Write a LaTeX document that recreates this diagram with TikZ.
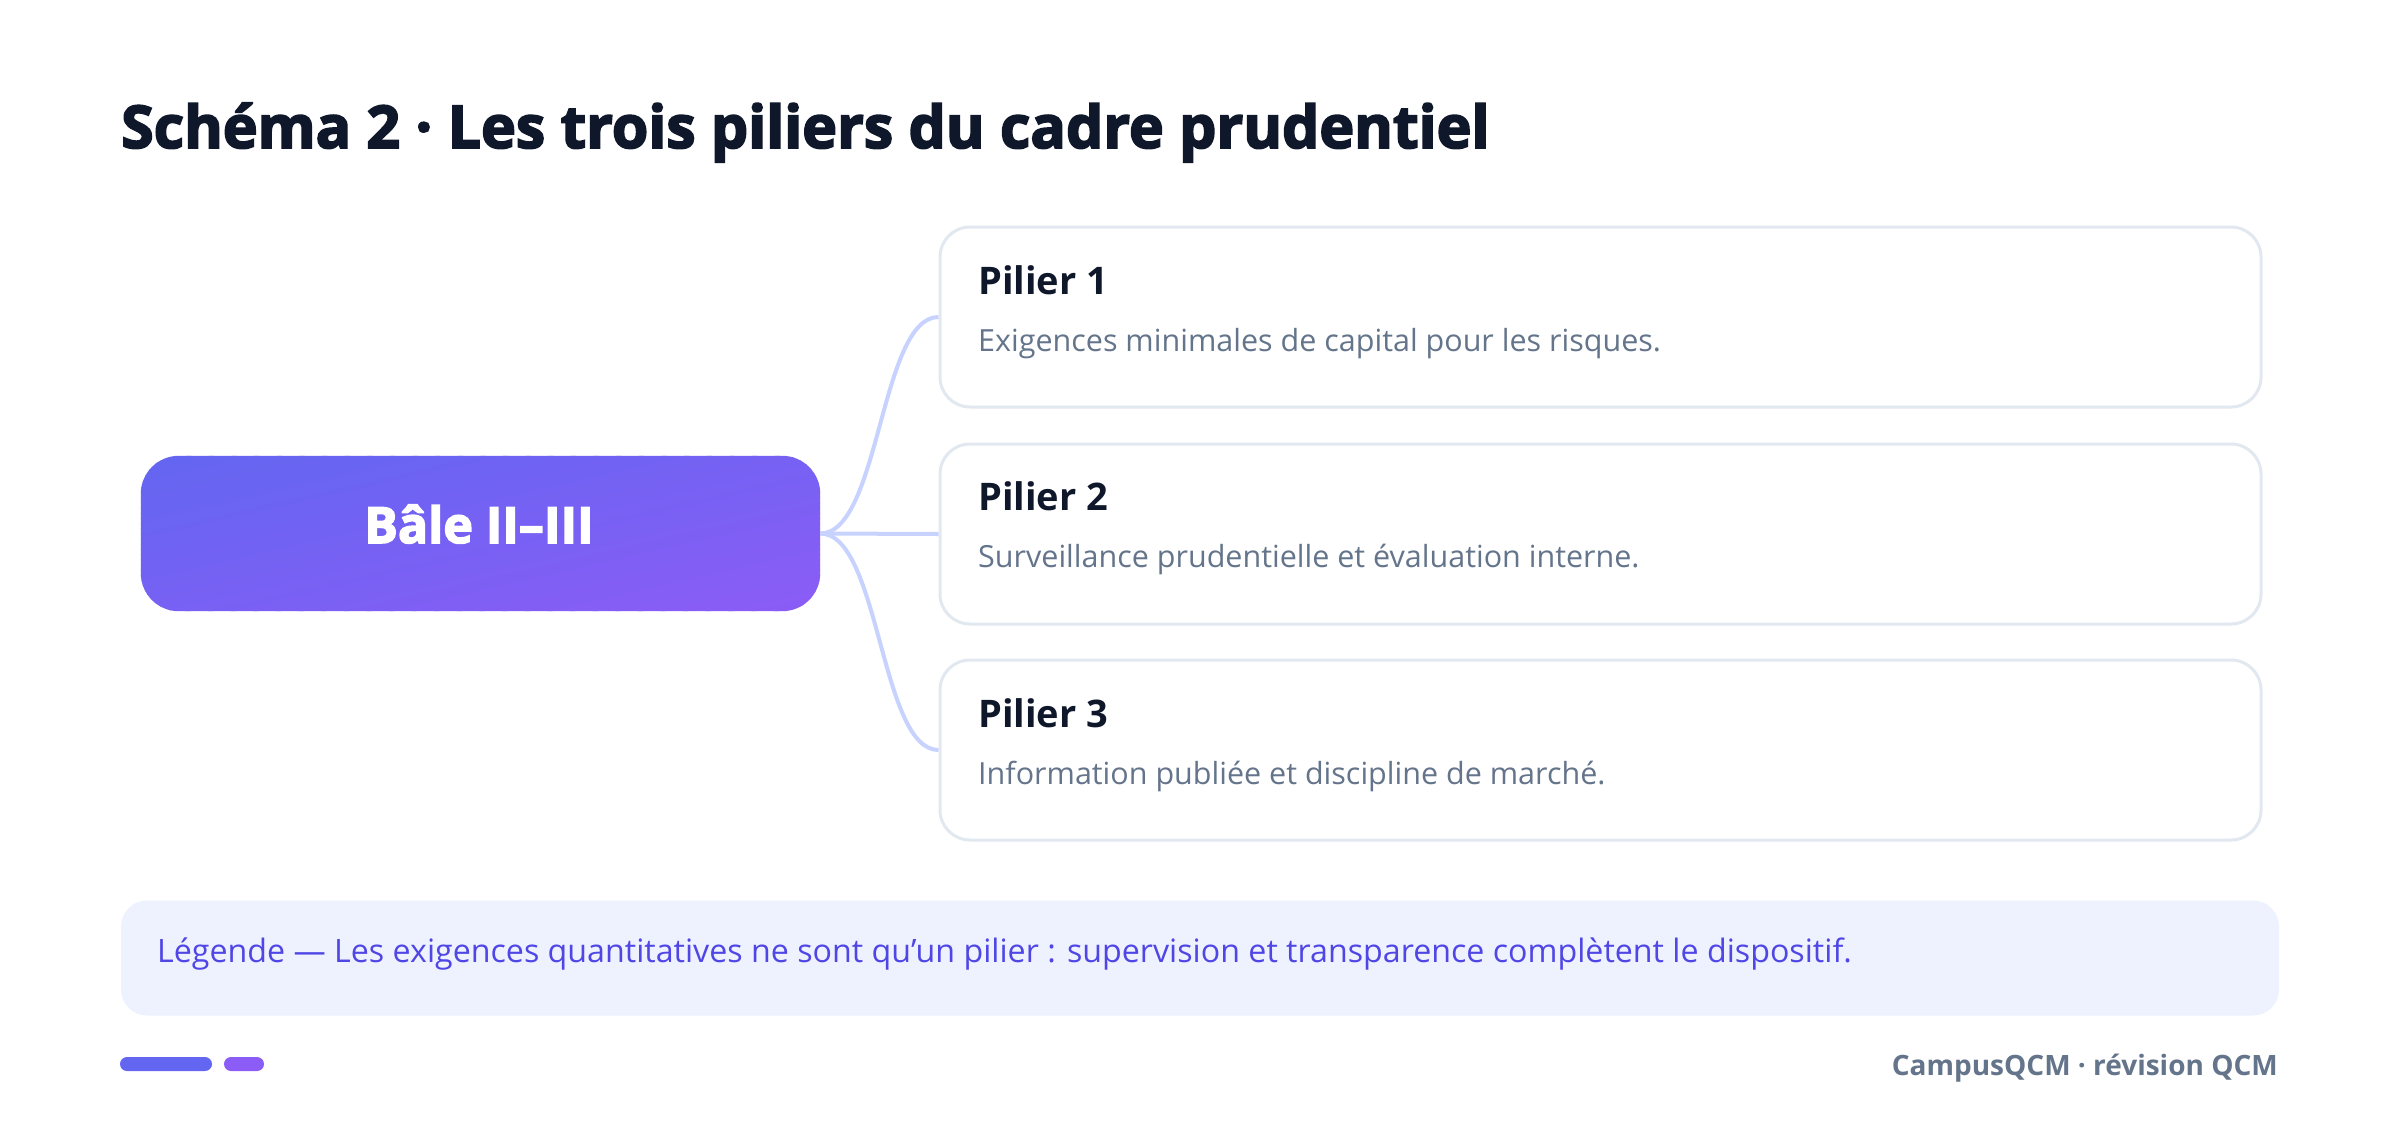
\documentclass[tikz,border=0pt]{standalone}
\usepackage{fontspec}
\setmainfont{Open Sans}
\newfontfamily\heavy{Open Sans}[BoldFeatures={FakeBold=3}]
\definecolor{ink}{HTML}{0F172A}
\definecolor{slate}{HTML}{64748B}
\definecolor{cardline}{HTML}{E2E8F0}
\definecolor{linkc}{HTML}{C7D2FE}
\definecolor{indigoA}{HTML}{6366F1}
\definecolor{violetA}{HTML}{8B5CF6}
\definecolor{legendbg}{HTML}{EEF2FF}
\definecolor{legendtx}{HTML}{4F46E5}
\tikzset{
  card/.style={draw=cardline, line width=3pt, fill=white, rounded corners=30pt,
    minimum width=1321pt, minimum height=180pt, inner sep=0pt},
  cardtitle/.style={anchor=base west, inner sep=0pt, text=ink,
    font=\fontsize{38}{44}\selectfont\bfseries},
  carddesc/.style={anchor=base west, inner sep=0pt, text=slate,
    font=\fontsize{30.5}{36}\selectfont},
  linkline/.style={draw=linkc, line width=4pt},
}
\begin{document}
\begin{tikzpicture}[x=1pt,y=-1pt]
\useasboundingbox[fill=white] (0,0) rectangle (2400,1125);

% title
\node[anchor=base west, inner sep=0pt, text=ink,
  font=\fontsize{59}{70}\selectfont\heavy\bfseries] (title) at (121,148)
  {Schéma 2 · Les trois piliers du cadre prudentiel};

% central node with diagonal gradient (top-left indigo -> bottom-right violet,
% bounding-box relative)
\node[minimum width=679pt, minimum height=155pt, inner sep=0pt] (bale) at (480.5,533.5) {};
\begin{scope}
  \clip[rounded corners=38pt] (bale.north west) rectangle (bale.south east);
  \foreach \i in {0,...,59}{
    \pgfmathsetmacro{\ka}{-1+\i/30}
    \pgfmathsetmacro{\kb}{-1+(\i+1)/30+0.006}
    \pgfmathsetmacro{\pct}{\i/59*100}
    \colorlet{stripc}{violetA!\pct!indigoA}
    \fill[stripc, shift={(bale.center)}]
      (-679,{(\ka+1)*155}) -- (679,{(\ka-1)*155}) -- (679,{(\kb-1)*155}) -- (-679,{(\kb+1)*155}) -- cycle;
  }
\end{scope}
\node[anchor=base, inner sep=0pt, text=white,
  font=\fontsize{50}{60}\selectfont\heavy\bfseries] (baletext) at (479,543) {Bâle II–III};

% cards
\node[card] (p1) at (1600.5,317) {};
\node[card] (p2) at (1600.5,534) {};
\node[card] (p3) at (1600.5,750) {};

\node[cardtitle] (t1) at (978,294) {Pilier 1};
\node[carddesc]  (d1) at (978,351) {Exigences minimales de capital pour les risques.};
\node[cardtitle] (t2) at (978,510) {Pilier 2};
\node[carddesc]  (d2) at (978,567) {Surveillance prudentielle et évaluation interne.};
\node[cardtitle] (t3) at (978,727) {Pilier 3};
\node[carddesc]  (d3) at (978,784) {Information publiée et discipline de marché.};

% connectors
\draw[linkline] (bale.east) .. controls (880,533.5) and (880,317) .. (p1.west);
\draw[linkline] (bale.east) -- (p2.west);
\draw[linkline] (bale.east) .. controls (880,533.5) and (880,750) .. (p3.west);

% legend
\node[fill=legendbg, rounded corners=26pt, minimum width=2158pt, minimum height=115pt,
  inner sep=0pt] (legend) at (1200,958) {};
\node[anchor=base west, inner sep=0pt, text=legendtx,
  font=\fontsize{32.2}{38}\selectfont] (legendtext) at (157,962)
  {Légende — Les exigences quantitatives ne sont qu'un pilier : supervision et transparence complètent le dispositif.};

% footer
\node[fill=indigoA, rounded corners=7pt, minimum width=92pt, minimum height=14pt,
  inner sep=0pt] (bar1) at (166,1064) {};
\node[fill=violetA, rounded corners=7pt, minimum width=40pt, minimum height=14pt,
  inner sep=0pt] (bar2) at (244,1064) {};
\node[anchor=base east, inner sep=0pt, text=slate,
  font=\fontsize{28}{34}\selectfont\bfseries] (footer) at (2278,1075)
  {CampusQCM · révision QCM};
\end{tikzpicture}
\end{document}
